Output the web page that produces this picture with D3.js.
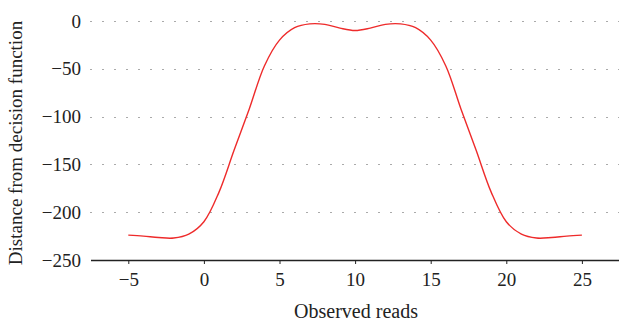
<!DOCTYPE html>
<html>
<head>
<meta charset="utf-8">
<script src="https://cdn.jsdelivr.net/npm/d3@7"></script>
<style>
    body { margin: 0; background: #fff; }
    svg text { font-family: "Liberation Serif", "DejaVu Serif", serif !important; fill: #222; }
</style>
</head>
<body>
<div id="chart"></div>
<script>
const reads = [-5, -4, -3, -2, -1, 0, 1, 2, 3, 4, 5, 6, 7, 8, 9, 10,
    11, 12, 13, 14, 15, 16, 17, 18, 19, 20, 21, 22, 23, 24, 25];
const distance = [-224, -225, -226.5, -227, -223, -210, -179, -135, -92, -47, -20, -7, -3, -3.5, -7.5, -10,
    -7.5, -3.5, -3, -7, -20, -47, -92, -135, -179, -210, -223, -227, -226.5, -225, -224];
const xTicks = [-5, 0, 5, 10, 15, 20, 25];
const yTicks = [0, -50, -100, -150, -200, -250];

const points = reads.map((r, i) => ({ key: r, value: distance[i] }));

const W = 619, H = 328;
const serif = "'Liberation Serif', 'DejaVu Serif', serif";

const svg = d3.select("#chart")
    .append("svg")
        .attr("width", W)
        .attr("height", H);

const x = d3.scaleLinear()
    .domain([-7.5, 27.5])
    .range([90.5, 619.7]);

const y = d3.scaleLinear()
    .domain([-250, 0])
    .range([260, 21]);

// dotted gridlines
svg.append("g")
    .selectAll("line")
    .data(yTicks.filter(d => d > -250))
    .join("line")
        .attr("x1", 90.5)
        .attr("x2", W)
        .attr("y1", d => Math.round(y(d)) + 0.5)
        .attr("y2", d => Math.round(y(d)) + 0.5)
        .attr("stroke", "#555")
        .attr("stroke-width", 1)
        .attr("stroke-dasharray", "1,11");

// y labels (no axis line)
svg.append("g")
    .selectAll("text")
    .data(yTicks)
    .join("text")
        .attr("x", 81)
        .attr("y", d => y(d))
        .attr("dy", "0.35em")
        .attr("text-anchor", "end")
        .style("font-family", serif)
        .style("font-size", "19px")
        .text(d => d3.format("")(d));

const line = d3.line()
    .x(d => x(d.key))
    .y(d => y(d.value))
    .curve(d3.curveCatmullRom.alpha(0.5));

svg.append("path")
    .datum(points)
    .attr("fill", "none")
    .attr("stroke", "#ee2b2b")
    .attr("stroke-width", 1.4)
    .attr("d", line);

const xAxisGroup = svg.append("g")
    .attr("transform", `translate(0,${y(-250)})`)
    .call(d3.axisBottom(x).tickValues(xTicks).tickSize(4).tickPadding(9).tickSizeOuter(0));

xAxisGroup.select(".domain").attr("stroke", "#222").attr("stroke-width", 1.3);
xAxisGroup.selectAll("line").attr("stroke", "#222");
xAxisGroup.selectAll("text")
    .style("font-size", "19px")
    .style("font-family", serif)
    .attr("fill", "#222");

svg.append("text")
    .attr("x", 356)
    .attr("y", 318)
    .attr("text-anchor", "middle")
    .style("font-family", serif)
    .style("font-size", "20px")
    .text("Observed reads");

svg.append("text")
    .attr("transform", "rotate(-90)")
    .attr("x", -143)
    .attr("y", 22)
    .attr("text-anchor", "middle")
    .style("font-family", serif)
    .style("font-size", "19px")
    .text("Distance from decision function");
</script>
</body>
</html>
